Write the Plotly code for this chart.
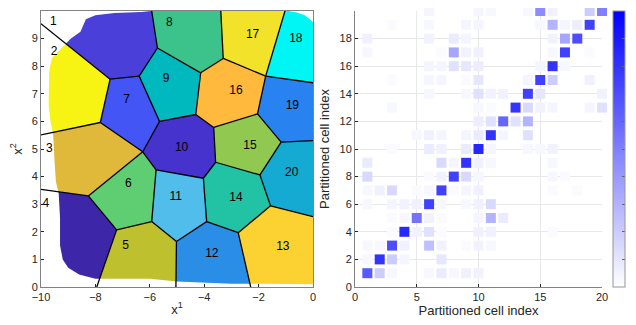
import plotly.graph_objects as go

# ---------------- Left panel data: Voronoi partition ----------------
vertices = {
    "A": (-7.46, 7.53), "B": (-6.39, 7.64), "C": (-5.72, 8.66), "D": (-4.13, 7.76),
    "E": (-3.30, 8.28), "F": (-1.74, 7.64), "G": (-5.64, 6.00), "H": (-7.82, 5.96),
    "I": (-4.31, 6.25), "J": (-3.65, 5.78), "K": (-2.04, 6.27), "L": (-1.17, 5.25),
    "M": (-6.26, 4.90), "N": (-5.77, 4.24), "O": (-3.58, 4.52), "P": (-4.03, 3.94),
    "Q": (-1.95, 4.06), "R": (-1.56, 2.94), "S": (-8.26, 3.30), "T": (-5.93, 2.37),
    "U": (-7.22, 2.07), "V": (-5.02, 1.65), "W": (-3.91, 2.37), "X": (-2.75, 1.97),
    "e1": (-10, 9.54), "e2": (-5.93, 10), "e3": (-3.39, 10), "e4": (-1.03, 10),
    "e5": (0, 7.40), "e6": (0, 5.30), "e7": (0, 2.55), "e8": (-2.29, 0),
    "e9": (-5.04, 0), "e10": (-7.95, 0), "e11": (-10, 3.54), "e12": (-10, 5.51),
    "c_tl": (-10, 10), "c_tr": (0, 10), "c_br": (0, 0), "c_bl": (-10, 0),
}

cells = [
    ["c_tl", "e2", "C", "B", "A", "e1"],          # 1
    ["e1", "A", "H", "e12"],                      # 2
    ["e12", "H", "M", "S", "e11"],                # 3
    ["e11", "S", "U", "e10", "c_bl"],             # 4
    ["U", "T", "V", "e9", "e10"],                 # 5
    ["M", "N", "T", "U", "S"],                    # 6
    ["A", "B", "G", "M", "H"],                    # 7
    ["e2", "e3", "E", "D", "C"],                  # 8
    ["C", "D", "I", "G", "B"],                    # 9
    ["G", "I", "J", "O", "P", "N", "M"],          # 10
    ["N", "P", "W", "V", "T"],                    # 11
    ["V", "W", "X", "e8", "e9"],                  # 12
    ["X", "R", "e7", "c_br", "e8"],               # 13
    ["P", "O", "Q", "R", "X", "W"],               # 14
    ["J", "K", "L", "Q", "O"],                    # 15
    ["D", "E", "F", "K", "J", "I"],               # 16
    ["e3", "e4", "F", "E"],                       # 17
    ["e4", "c_tr", "e5", "F"],                    # 18
    ["F", "e5", "e6", "L", "K"],                  # 19
    ["L", "e6", "e7", "R", "Q"],                  # 20
]

cell_colors = [
    "#4a3fd8", "#f7f414", "#e0b83a", "#3e26a8", "#bfc02d",
    "#5fcd72", "#4455f5", "#3cc38c", "#00b9be", "#4632cd",
    "#50bdea", "#2b8ee6", "#fbd232", "#22c3a5", "#91c850",
    "#ffb93c", "#f3e22a", "#00f5f5", "#2882f0", "#14aad2",
]

edges = [
    ("e1", "A"), ("A", "B"), ("B", "C"), ("C", "e2"), ("A", "H"), ("B", "G"),
    ("C", "D"), ("D", "E"), ("E", "e3"), ("D", "I"), ("E", "F"), ("F", "e4"),
    ("F", "e5"), ("F", "K"), ("I", "G"), ("I", "J"), ("J", "K"), ("K", "L"),
    ("L", "e6"), ("L", "Q"), ("J", "O"), ("O", "Q"), ("O", "P"), ("P", "N"),
    ("N", "M"), ("M", "G"), ("M", "H"), ("H", "e12"), ("M", "S"), ("S", "e11"),
    ("S", "U"), ("U", "T"), ("N", "T"), ("T", "V"), ("V", "e9"), ("U", "e10"),
    ("P", "W"), ("V", "W"), ("W", "X"), ("X", "R"), ("R", "Q"), ("R", "e7"),
    ("X", "e8"),
]

label_x = [-9.55, -9.52, -9.69, -9.82, -6.89, -6.79, -6.85, -5.28, -5.40, -4.83,
           -5.05, -3.72, -1.11, -2.83, -2.32, -2.83, -2.22, -0.63, -0.76, -0.78]
label_y = [9.60, 8.50, 4.99, 3.01, 1.47, 3.72, 6.77, 9.57, 7.52, 5.03,
           3.25, 1.20, 1.45, 3.22, 5.11, 7.11, 9.12, 9.00, 6.55, 4.12]

# outline of the empty (no-sample) area around the point cloud
empty_left_bottom = [
    (-10, 10), (-5.95, 10), (-6.3, 9.96), (-7.3, 9.93), (-8.0, 9.85), (-8.35, 9.7),
    (-8.55, 9.25), (-8.9, 9.0), (-9.1, 8.8), (-9.35, 8.55), (-9.6, 8.3), (-9.7, 7.8),
    (-9.72, 6.6), (-9.65, 6.0), (-9.55, 5.5), (-9.5, 4.5), (-9.45, 3.8), (-9.35, 3.4),
    (-9.3, 2.5), (-9.3, 1.5), (-9.2, 1.0), (-9.0, 0.7), (-8.6, 0.45), (-8.0, 0.3),
    (-7.0, 0.3), (-6.0, 0.3), (-5.0, 0.2), (-4.0, 0.15), (-3.0, 0.12), (-2.0, 0.12),
    (-1.0, 0.1), (0, 0.1), (0, 0), (-10, 0),
]
empty_top_right = [(-0.9, 10), (0, 10), (0, 9.6), (-0.3, 9.85), (-0.6, 9.95)]

# ---------------- Right panel data: 20x20 matrix (row = y index 1..20) ----------------
matrix = [
    [.65, .2, .03, 0, 0, .03, .08, .03, .06, .05, 0, 0, 0, 0, 0, 0, 0, 0, 0, 0],
    [.03, .8, .2, .04, 0, 0, .1, 0, 0, 0, 0, 0, 0, 0, 0, 0, 0, 0, 0, 0],
    [.03, .03, .7, .06, 0, .25, .05, 0, .02, .05, .03, 0, 0, 0, 0, 0, 0, 0, 0, 0],
    [0, 0, .02, .85, .05, .12, .02, 0, 0, .06, .06, 0, 0, 0, 0, .02, 0, 0, 0, 0],
    [0, 0, .02, .03, .55, .05, .02, 0, 0, .04, .3, .08, 0, 0, 0, 0, 0, 0, 0, 0],
    [.03, 0, .04, .05, .06, .75, .03, 0, .03, .06, .15, 0, 0, 0, 0, 0, 0, 0, 0, 0],
    [.03, .06, .15, 0, .02, .03, .75, .02, .04, .06, 0, 0, 0, 0, 0, .02, 0, .02, 0, 0],
    [.15, 0, 0, 0, 0, .02, .05, .75, .15, .03, 0, 0, 0, 0, 0, .03, .02, 0, 0, 0],
    [.08, 0, 0, 0, 0, 0, .15, .04, .8, .06, .03, 0, 0, 0, 0, .03, 0, 0, 0, 0],
    [0, 0, .02, 0, 0, .08, .06, 0, .08, .85, .04, 0, 0, .03, .03, .05, 0, 0, 0, 0],
    [0, 0, 0, 0, .03, .06, .04, 0, .04, .08, .8, .04, 0, .12, 0, 0, 0, 0, 0, 0],
    [0, 0, 0, 0, 0, 0, 0, 0, 0, .07, .12, .6, .12, .3, 0, 0, 0, 0, 0, 0],
    [0, 0, .03, 0, 0, 0, 0, 0, 0, .03, .02, 0, .8, .15, .05, .04, 0, 0, .04, .12],
    [0, 0, 0, 0, 0, .03, 0, 0, .03, .12, .05, .05, 0, .75, .1, 0, 0, 0, 0, .05],
    [0, 0, .02, 0, 0, .04, .04, 0, .02, .1, 0, 0, 0, .04, .75, .2, 0, 0, .06, 0],
    [0, 0, 0, 0, 0, .04, .04, .12, .1, .07, 0, 0, 0, 0, .04, .8, .03, 0, 0, 0],
    [.03, 0, 0, 0, 0, 0, .02, .35, .05, .06, 0, 0, 0, 0, 0, .03, .75, 0, .02, 0],
    [.06, 0, 0, 0, 0, .05, 0, .08, .04, 0, 0, 0, 0, 0, 0, .05, .35, .7, 0, 0],
    [0, 0, .02, 0, 0, .03, 0, 0, .04, .04, 0, 0, 0, 0, .03, .3, .04, .07, .75, 0],
    [0, 0, 0, 0, 0, .04, 0, 0, 0, .04, .03, 0, 0, .03, .45, .05, 0, 0, .2, .5],
]
left_xticks = [-10, -8, -6, -4, -2, 0]
left_yticks = [0, 1, 2, 3, 4, 5, 6, 7, 8, 9, 10]
right_xticks = [0, 5, 10, 15, 20]
right_yticks = [0, 2, 4, 6, 8, 10, 12, 14, 16, 18, 20]
cbar_ticks = [0, 0.1, 0.2, 0.3, 0.4, 0.5, 0.6, 0.7, 0.8, 0.9, 1]

# ---------------- Figure ----------------
fig = go.Figure()
FONT = "Liberation Sans, Arial, sans-serif"

for poly, col in zip(cells, cell_colors):
    xs = [vertices[v][0] for v in poly] + [vertices[poly[0]][0]]
    ys = [vertices[v][1] for v in poly] + [vertices[poly[0]][1]]
    fig.add_trace(go.Scatter(x=xs, y=ys, mode="lines", fill="toself", fillcolor=col,
                             line=dict(width=0, color=col), hoverinfo="skip",
                             showlegend=False, xaxis="x", yaxis="y"))

for poly in (empty_left_bottom, empty_top_right):
    xs = [p[0] for p in poly] + [poly[0][0]]
    ys = [p[1] for p in poly] + [poly[0][1]]
    fig.add_trace(go.Scatter(x=xs, y=ys, mode="lines", fill="toself", fillcolor="white",
                             line=dict(width=0, color="white"), hoverinfo="skip",
                             showlegend=False, xaxis="x", yaxis="y"))

ex, ey = [], []
for a, b in edges:
    ex += [vertices[a][0], vertices[b][0], None]
    ey += [vertices[a][1], vertices[b][1], None]
fig.add_trace(go.Scatter(x=ex, y=ey, mode="lines", line=dict(color="black", width=1.3),
                         hoverinfo="skip", showlegend=False, xaxis="x", yaxis="y"))

fig.add_trace(go.Scatter(x=label_x, y=label_y, mode="text",
                         text=[str(i + 1) for i in range(len(label_x))],
                         textfont=dict(family=FONT, size=12, color="black"),
                         showlegend=False, xaxis="x", yaxis="y"))

# right panel: square markers for nonzero matrix entries
hx, hy, hv = [], [], []
for r, row in enumerate(matrix):
    for c, v in enumerate(row):
        if v > 0:
            hx.append(c + 1)
            hy.append(r + 1)
            hv.append(v)
order = sorted(range(len(hv)), key=lambda i: hv[i])
hx = [hx[i] for i in order]
hy = [hy[i] for i in order]
hv = [hv[i] for i in order]

# the page places the figure 8px from the window's top-left corner
W, H = 628, 317
OFF = 8
ML, MT = 41 - OFF, 11 - OFF
MR, MB = W - (602 - OFF), H - (287 - OFF)
PW = W - ML - MR

fig.add_trace(go.Scatter(
    x=hx, y=hy, mode="markers", xaxis="x2", yaxis="y2", showlegend=False, cliponaxis=False,
    marker=dict(symbol="square", size=10, color=hv, cmin=0, cmax=1,
                colorscale=[[0, "rgb(255,255,255)"], [1, "rgb(0,0,255)"]],
                line=dict(width=0),
                colorbar=dict(x=(613 - OFF - ML) / PW, xanchor="left", y=0, yanchor="bottom",
                              len=1, lenmode="fraction", thickness=12,
                              outlinecolor="rgb(150,150,150)", outlinewidth=1,
                              tickvals=cbar_ticks, ticktext=[f"{t:g}" for t in cbar_ticks],
                              ticks="inside", ticklen=3, tickcolor="rgb(100,100,100)",
                              tickfont=dict(family=FONT, size=11, color="rgb(38,38,38)"),
                              xpad=0, ypad=0))))

axis_common = dict(showgrid=False, zeroline=False, ticks="inside", ticklen=3,
                   tickcolor="rgb(38,38,38)", linecolor="rgb(130,130,130)", linewidth=1,
                   showline=True, tickfont=dict(family=FONT, size=11, color="rgb(38,38,38)"))

fig.update_layout(
    width=W, height=H,
    margin=dict(l=ML, r=MR, t=MT, b=MB, autoexpand=False),
    paper_bgcolor="white", plot_bgcolor="white",
    font=dict(family=FONT, color="rgb(38,38,38)"),
    xaxis=dict(domain=[0, (313 - OFF - ML) / PW], range=[-10, 0], tickvals=left_xticks,
               mirror=True, anchor="y",
               title=dict(text="x<sup>1</sup>", font=dict(size=13), standoff=2),
               **axis_common),
    yaxis=dict(domain=[0, 1], range=[0, 10], tickvals=left_yticks,
               mirror=True, anchor="x",
               title=dict(text="x<sup>2</sup>", font=dict(size=13), standoff=6),
               **axis_common),
    xaxis2=dict(domain=[(355 - OFF - ML) / PW, 1], range=[0, 20], tickvals=right_xticks,
                anchor="y2",
                title=dict(text="Partitioned cell index", font=dict(size=13), standoff=2),
                **{**axis_common, "showgrid": True, "gridcolor": "rgb(232,232,232)"}),
    yaxis2=dict(domain=[0, 1], range=[0, 20], tickvals=right_yticks,
                anchor="x2",
                title=dict(text="Partitioned cell index", font=dict(size=13), standoff=6),
                **{**axis_common, "showgrid": True, "gridcolor": "rgb(232,232,232)"}),
)

fig.write_html("out.html")
